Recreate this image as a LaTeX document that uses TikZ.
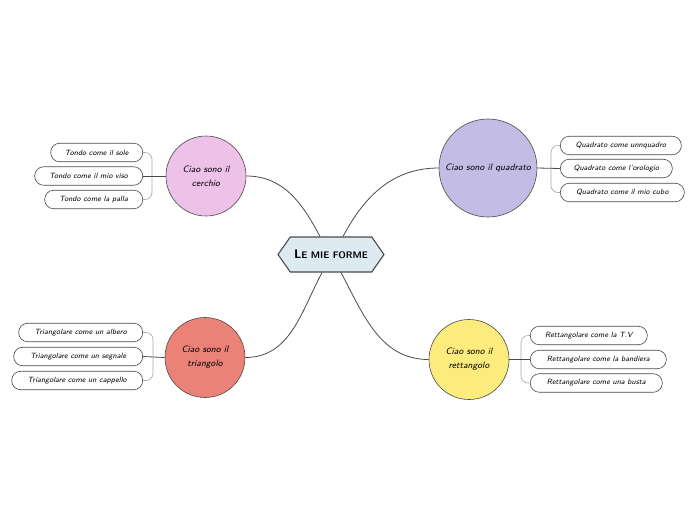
\documentclass[tikz,border=0pt]{standalone}
\usepackage{fontspec}
\usetikzlibrary{shapes.symbols}
\definecolor{pinkc}{HTML}{EEC2E8}
\definecolor{lavc}{HTML}{C3BCE5}
\definecolor{salc}{HTML}{EB8278}
\definecolor{yelc}{HTML}{FBEC7D}
\definecolor{rootc}{HTML}{DDEAF2}
\definecolor{linec}{HTML}{4A4A4A}
\definecolor{brc}{HTML}{A8A8A8}
\tikzset{
  rootbox/.style={shape=signal, signal to=west and east, signal pointer angle=110,
    draw=linec, line width=1.1pt, fill=rootc, minimum width=106pt, minimum height=35pt,
    inner sep=2pt, font=\fontsize{12.5}{13}\selectfont\sffamily\bfseries},
  circ/.style={circle, draw=linec, line width=0.6pt, align=center,
    font=\fontsize{9.3}{14}\selectfont\sffamily\itshape, inner sep=0pt},
  leaf/.style={draw=linec, line width=0.6pt, fill=white, rounded corners=9pt,
    minimum height=18.5pt, minimum width=#1, inner sep=0pt,
    font=\fontsize{7.6}{8}\selectfont\sffamily\itshape},
  link/.style={draw=linec, line width=0.8pt},
  bracket/.style={draw=brc, line width=0.6pt, rounded corners=7pt}
}
\begin{document}
\begin{tikzpicture}[x=1pt,y=-1pt]
\useasboundingbox (0,0) rectangle (696,520);
\fill[white] (0,0) rectangle (696,520);

% root
\node[rootbox] (root) at (331,254.5) {L{\fontsize{9.5}{10}\selectfont E MIE FORME}};

% circles
\node[circ, fill=pinkc, minimum size=80pt] (cer) at (206,176) {Ciao sono il\\cerchio};
\node[circ, fill=lavc, minimum size=98pt] (qua) at (488,168) {Ciao sono il quadrato};
\node[circ, fill=salc, minimum size=80pt] (tri) at (205,357.5) {Ciao sono il\\triangolo};
\node[circ, fill=yelc, minimum size=80pt] (ret) at (469,359.5) {Ciao sono il\\rettangolo};

% main connectors
\draw[link] ([xshift=-11pt]root.north) to[out=118,in=0] (cer.east);
\draw[link] ([xshift=12pt]root.north) to[out=62,in=180] (qua.west);
\draw[link] ([xshift=-9pt]root.south) to[out=242,in=0] (tri.east);
\draw[link] ([xshift=10pt]root.south) to[out=298,in=180] (ret.west);

% cerchio leaves
\node[leaf=92pt, anchor=east] (c1) at (143,152.5) {Tondo come il sole};
\node[leaf=108pt, anchor=east] (c2) at (143,176) {Tondo come il mio viso};
\node[leaf=98pt, anchor=east] (c3) at (143,199.5) {Tondo come la palla};
\coordinate (cb) at (152,176);
\draw[bracket] (c1.east) -| (cb) |- (c3.east);
\draw[link] (cer.west) -- (c2.east);

% quadrato leaves
\node[leaf=121pt, anchor=west] (q1) at (560,145.5) {Quadrato come unnquadro};
\node[leaf=112pt, anchor=west] (q2) at (560,168.5) {Quadrato come l'orologio};
\node[leaf=124pt, anchor=west] (q3) at (560,192.5) {Quadrato come il mio cubo};
\coordinate (qb) at (551,168.5);
\draw[bracket] (q1.west) -| (qb) |- (q3.west);
\draw[link] (qua.east) -- (q2.west);

% triangolo leaves
\node[leaf=124pt, anchor=east] (t1) at (143,332.5) {Triangolare come un albero};
\node[leaf=129pt, anchor=east] (t2) at (143,356.5) {Triangolare come un segnale};
\node[leaf=131pt, anchor=east] (t3) at (143,380.5) {Triangolare come un cappello};
\coordinate (tb) at (153,356.5);
\draw[bracket] (t1.east) -| (tb) |- (t3.east);
\draw[link] (tri.west) -- (t2.east);

% rettangolo leaves
\node[leaf=117pt, anchor=west] (r1) at (530,335.5) {Rettangolare come la T.V};
\node[leaf=136pt, anchor=west] (r2) at (530,359.5) {Rettangolare come la bandiera};
\node[leaf=132pt, anchor=west] (r3) at (530,383) {Rettangolare come una busta};
\coordinate (rb) at (521,359.5);
\draw[bracket] (r1.west) -| (rb) |- (r3.west);
\draw[link] (ret.east) -- (r2.west);
\end{tikzpicture}
\end{document}
